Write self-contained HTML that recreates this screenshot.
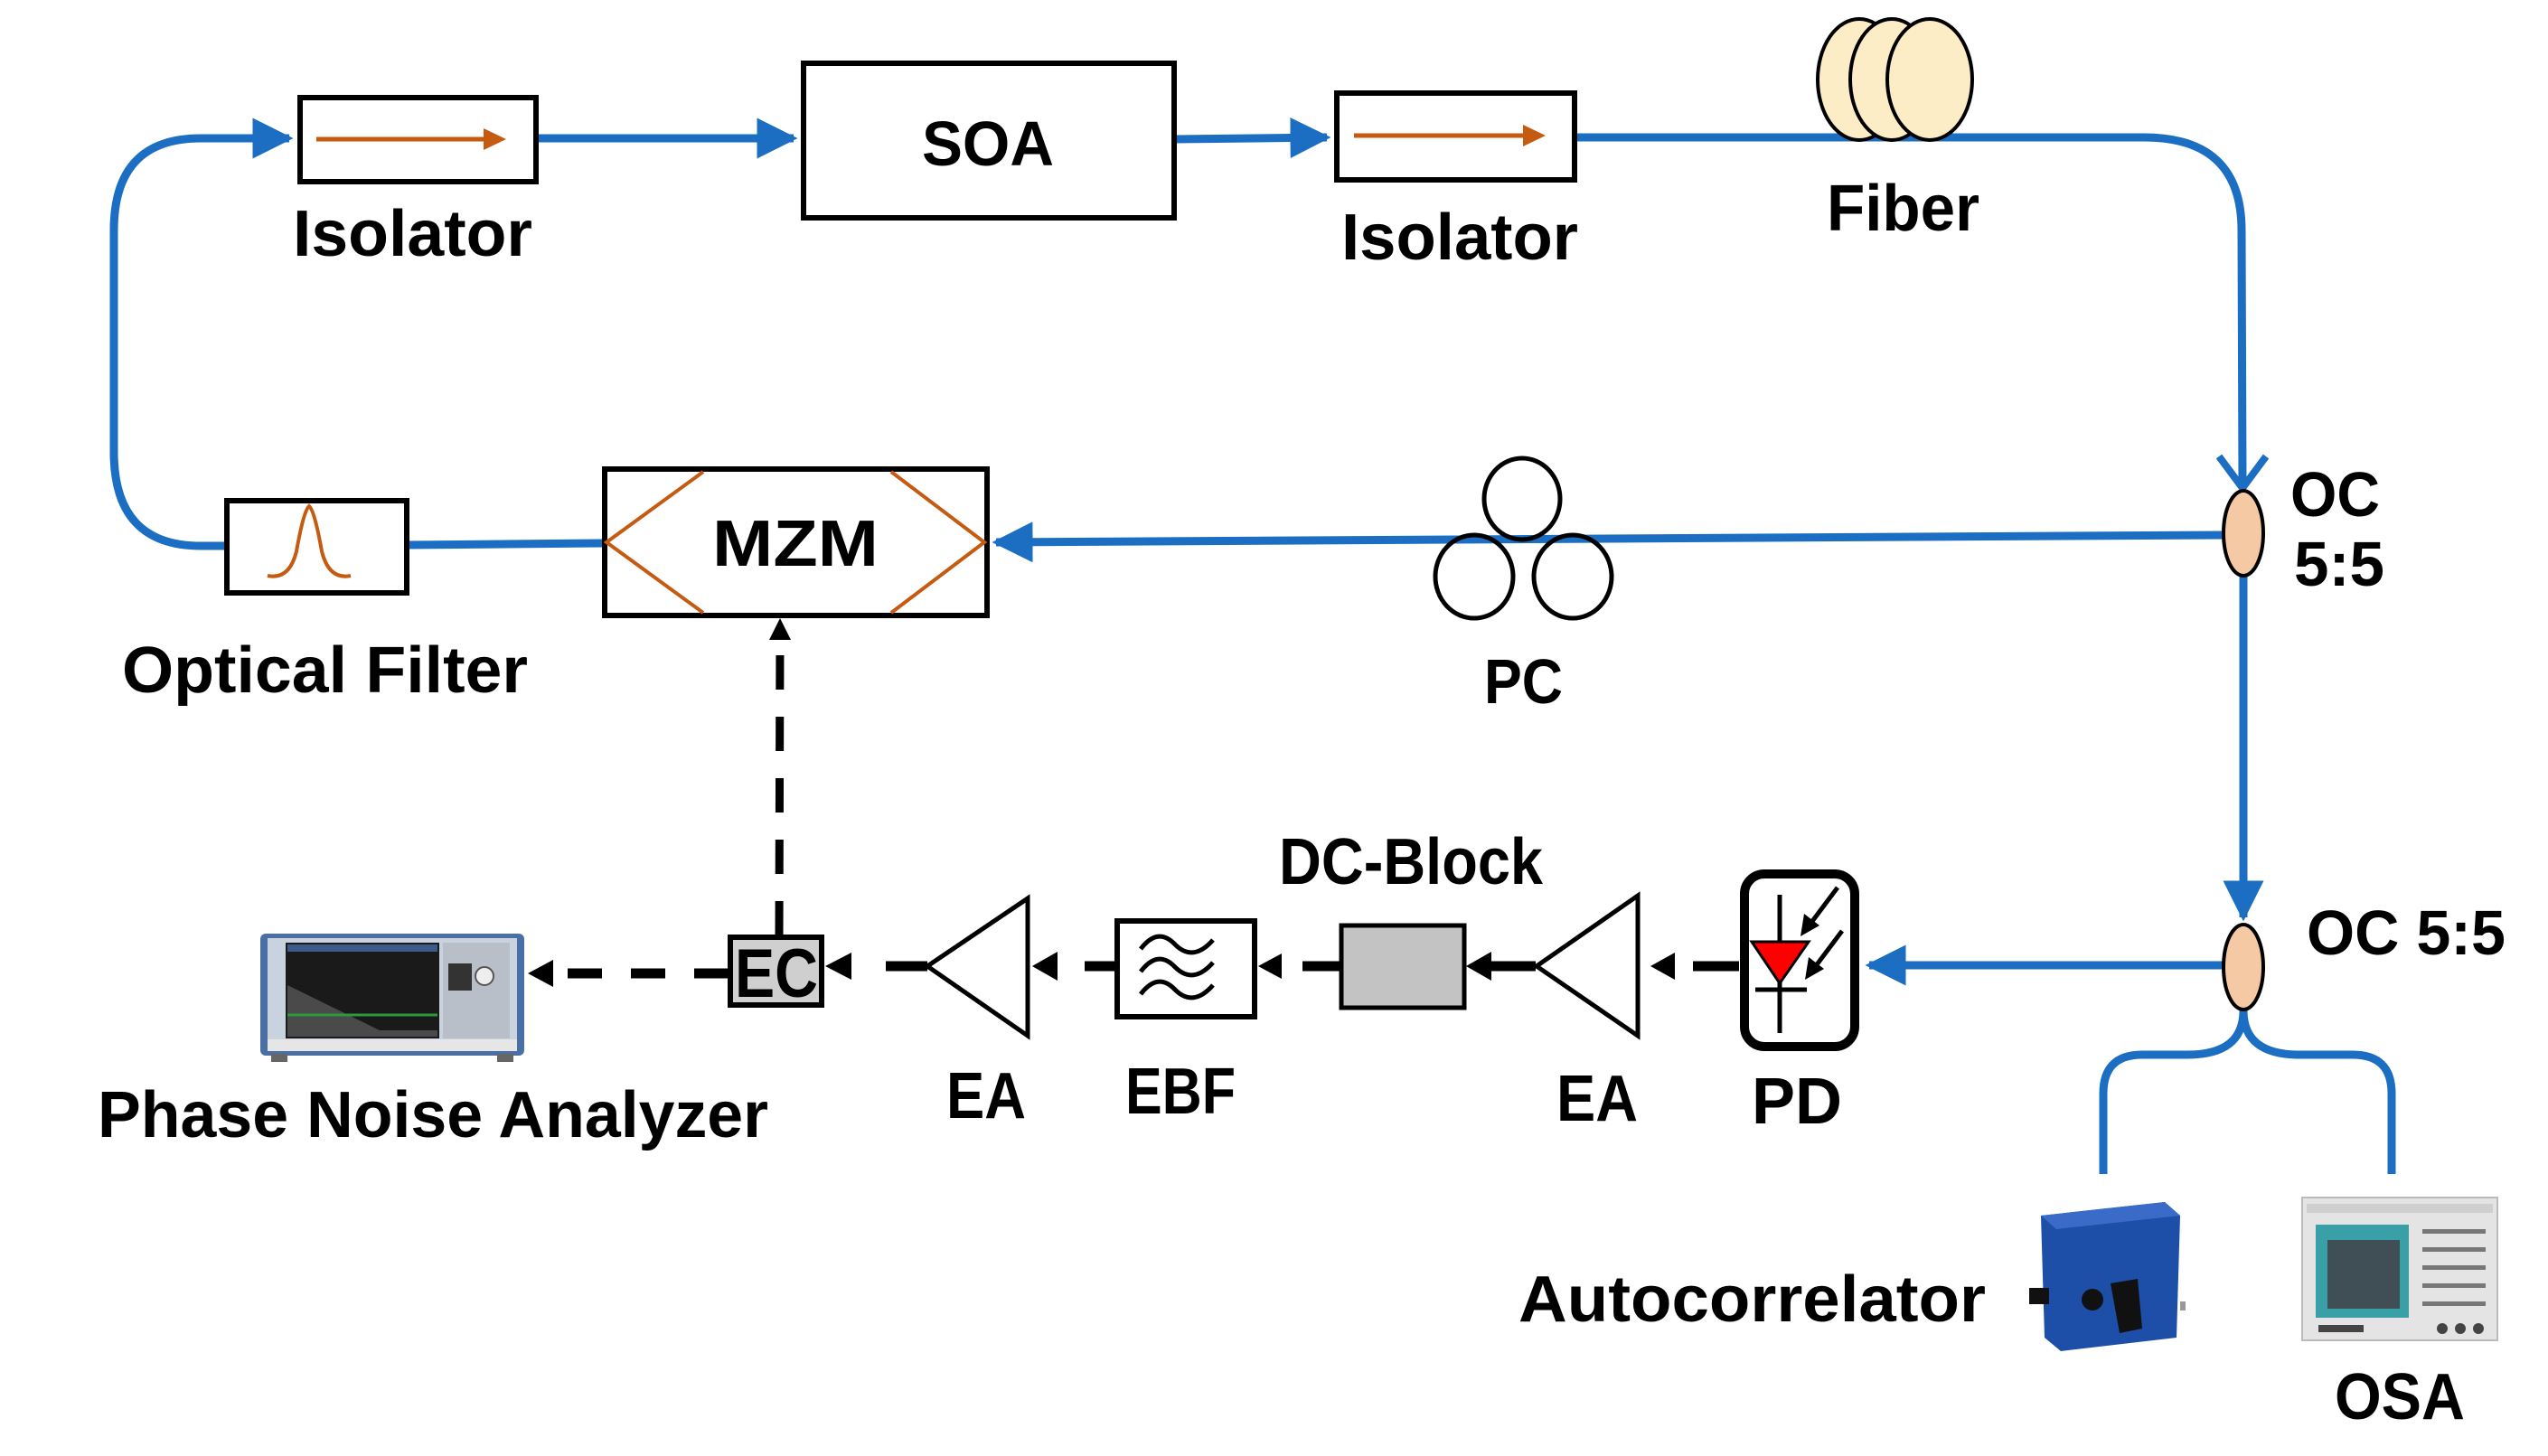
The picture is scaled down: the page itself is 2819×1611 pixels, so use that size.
<!DOCTYPE html>
<html><head><meta charset="utf-8"><style>
html,body{margin:0;padding:0;background:#fff;}
svg{display:block;}
text{font-family:"Liberation Sans",sans-serif;font-weight:bold;fill:#000;}
</style></head><body>
<svg width="2819" height="1611" viewBox="0 0 2819 1611" xmlns="http://www.w3.org/2000/svg">
<defs>
<marker id="ba" markerWidth="5" markerHeight="5" refX="4.5" refY="2.5" orient="auto" markerUnits="strokeWidth"><path d="M0,0 L5,2.5 L0,5 Z" fill="#1b6ec2"/></marker>
<marker id="ka" markerWidth="4" markerHeight="4" refX="3.5" refY="2" orient="auto" markerUnits="strokeWidth"><path d="M0,0 L4,2 L0,4 Z" fill="#000"/></marker>
</defs>

<!-- Blue fiber loop -->
<g fill="none" stroke="#1b6ec2" stroke-width="9">
<path d="M249,604 L222,604 Q126,604 126,500 L126,255 Q126,153 222,153 L320,153" marker-end="url(#ba)"/>
<path d="M593,153 L878,153" marker-end="url(#ba)"/>
<path d="M1299,154 L1468,152" marker-end="url(#ba)"/>
<path d="M1743,152 L2372,152 Q2480,152 2480,255 L2481,537"/>
<path d="M2455,505 L2481,540 L2507,505" stroke-width="8"/>
<path d="M2460,592 L1102,600" marker-end="url(#ba)"/>
<path d="M667,601 L451,603"/>
<path d="M2482,637 L2482,1015" marker-end="url(#ba)"/>
<path d="M2460,1068 L2068,1068" marker-end="url(#ba)"/>
<path d="M2482,1118 Q2482,1167 2420,1167 L2370,1167 Q2327,1167 2327,1210 L2327,1299"/>
<path d="M2482,1118 Q2482,1167 2544,1167 L2603,1167 Q2646,1167 2646,1210 L2646,1299"/>
</g>

<!-- Isolator 1 -->
<rect x="332" y="108" width="261" height="93" fill="#fff" stroke="#000" stroke-width="6"/>
<line x1="350" y1="154" x2="540" y2="154" stroke="#c55a11" stroke-width="5"/>
<path d="M535,142 L560,154 L535,166 Z" fill="#c55a11"/>
<text x="324" y="283" font-size="72" textLength="265" lengthAdjust="spacingAndGlyphs">Isolator</text>

<!-- SOA -->
<rect x="889" y="70" width="410" height="171" fill="#fff" stroke="#000" stroke-width="6"/>
<text x="1093" y="183" font-size="70" text-anchor="middle" textLength="146" lengthAdjust="spacingAndGlyphs">SOA</text>

<!-- Isolator 2 -->
<rect x="1479" y="103" width="263" height="96" fill="#fff" stroke="#000" stroke-width="6"/>
<line x1="1498" y1="150" x2="1690" y2="150" stroke="#c55a11" stroke-width="5"/>
<path d="M1685,138 L1710,150 L1685,162 Z" fill="#c55a11"/>
<text x="1484" y="287" font-size="72" textLength="262" lengthAdjust="spacingAndGlyphs">Isolator</text>

<!-- Fiber -->
<g fill="#fcedc6" stroke="#000" stroke-width="4">
<ellipse cx="2057" cy="88" rx="46" ry="67"/>
<ellipse cx="2093" cy="88" rx="46" ry="67"/>
<ellipse cx="2135" cy="88" rx="47" ry="67"/>
</g>
<text x="2021" y="255" font-size="72" textLength="169" lengthAdjust="spacingAndGlyphs">Fiber</text>

<!-- OC 1 -->
<ellipse cx="2482" cy="590" rx="22" ry="47" fill="#f6c9a5" stroke="#000" stroke-width="4"/>
<text x="2534" y="571" font-size="70" textLength="99" lengthAdjust="spacingAndGlyphs">OC</text>
<text x="2538" y="648" font-size="70" textLength="100" lengthAdjust="spacingAndGlyphs">5:5</text>

<!-- PC -->
<g fill="none" stroke="#000" stroke-width="5">
<ellipse cx="1684" cy="552" rx="42" ry="45"/>
<ellipse cx="1631" cy="638" rx="43" ry="46"/>
<ellipse cx="1740" cy="638" rx="43" ry="46"/>
</g>
<text x="1642" y="778" font-size="70" textLength="87" lengthAdjust="spacingAndGlyphs">PC</text>

<!-- MZM -->
<rect x="669" y="519" width="423" height="162" fill="#fff" stroke="#000" stroke-width="6"/>
<path d="M778,522 L671,600 L778,678" fill="none" stroke="#c55a11" stroke-width="4"/>
<path d="M986,522 L1089,600 L986,678" fill="none" stroke="#c55a11" stroke-width="4"/>
<text x="880" y="626" font-size="72" text-anchor="middle" textLength="184" lengthAdjust="spacingAndGlyphs">MZM</text>

<!-- Optical filter -->
<rect x="251" y="554" width="199" height="102" fill="#fff" stroke="#000" stroke-width="6"/>
<path d="M296,637 Q320,642 328,610 Q336,565 342,560 Q348,565 356,610 Q364,642 388,637" fill="none" stroke="#c55a11" stroke-width="4"/>
<text x="135" y="766" font-size="72" textLength="449" lengthAdjust="spacingAndGlyphs">Optical Filter</text>

<!-- Dashed control to MZM -->
<line x1="862" y1="1035" x2="863" y2="705" stroke="#000" stroke-width="9" stroke-dasharray="38,30"/>
<path d="M851,708 L863,684 L875,708 Z" fill="#000"/>

<!-- EC -->
<rect x="808" y="1037" width="101" height="75" fill="#cfcfcf" stroke="#000" stroke-width="6"/>
<text x="859" y="1103" font-size="76" text-anchor="middle" textLength="92" lengthAdjust="spacingAndGlyphs">EC</text>

<!-- dashed EC -> analyzer -->
<line x1="806" y1="1077" x2="615" y2="1077" stroke="#000" stroke-width="11" stroke-dasharray="38,32"/>
<path d="M612,1062 L584,1077 L612,1092 Z" fill="#000"/>

<!-- EA1 -->
<path d="M1137,994 L1137,1146 L1026,1069 Z" fill="#fff" stroke="#000" stroke-width="5"/>
<line x1="1026" y1="1069" x2="980" y2="1069" stroke="#000" stroke-width="11"/>
<path d="M942,1069 L936,1069" stroke="#000" stroke-width="11"/>
<path d="M942,1054 L913,1069 L942,1084 Z" fill="#000"/>
<text x="1047" y="1237" font-size="72" textLength="88" lengthAdjust="spacingAndGlyphs">EA</text>

<!-- EBF -->
<rect x="1236" y="1019" width="152" height="106" fill="#fff" stroke="#000" stroke-width="6"/>
<g fill="none" stroke="#000" stroke-width="5">
<path d="M1262,1050 Q1281,1025 1300,1045 Q1320,1065 1342,1040"/>
<path d="M1262,1075 Q1281,1050 1300,1070 Q1320,1090 1342,1065"/>
<path d="M1262,1100 Q1281,1075 1300,1095 Q1320,1115 1342,1090"/>
</g>
<line x1="1236" y1="1069" x2="1200" y2="1069" stroke="#000" stroke-width="11"/>
<path d="M1170,1053 L1142,1069 L1170,1085 Z" fill="#000"/>
<text x="1245" y="1232" font-size="72" textLength="122" lengthAdjust="spacingAndGlyphs">EBF</text>

<!-- DC-Block -->
<rect x="1484" y="1024" width="136" height="91" fill="#c3c3c3" stroke="#000" stroke-width="5"/>
<line x1="1484" y1="1069" x2="1441" y2="1069" stroke="#000" stroke-width="11"/>
<path d="M1418,1055 L1392,1069 L1418,1083 Z" fill="#000"/>
<line x1="1699" y1="1069" x2="1645" y2="1069" stroke="#000" stroke-width="11"/>
<path d="M1650,1053 L1622,1069 L1650,1085 Z" fill="#000"/>
<text x="1415" y="978" font-size="72" textLength="292" lengthAdjust="spacingAndGlyphs">DC-Block</text>

<!-- EA2 -->
<path d="M1812,991 L1812,1146 L1700,1069 Z" fill="#fff" stroke="#000" stroke-width="5"/>
<line x1="1924" y1="1069" x2="1873" y2="1069" stroke="#000" stroke-width="11"/>
<path d="M1853,1054 L1826,1069 L1853,1084 Z" fill="#000"/>
<text x="1722" y="1240" font-size="72" textLength="90" lengthAdjust="spacingAndGlyphs">EA</text>

<!-- PD -->
<rect x="1930" y="967" width="122" height="191" rx="22" fill="#fff" stroke="#000" stroke-width="10"/>
<line x1="1969" y1="990" x2="1969" y2="1143" stroke="#000" stroke-width="5"/>
<path d="M1938,1042 L2001,1042 L1969,1088 Z" fill="#ff0000" stroke="#000" stroke-width="3"/>
<line x1="1942" y1="1095" x2="1999" y2="1095" stroke="#000" stroke-width="5"/>
<g stroke="#000" stroke-width="5"><line x1="2033" y1="982" x2="2003" y2="1022"/><line x1="2038" y1="1030" x2="2008" y2="1070"/></g>
<path d="M1992,1036 L1996,1011 L2013,1024 Z" fill="#000"/>
<path d="M1997,1084 L2001,1059 L2018,1072 Z" fill="#000"/>
<text x="1938" y="1243" font-size="72" textLength="100" lengthAdjust="spacingAndGlyphs">PD</text>

<!-- OC 2 -->
<ellipse cx="2482" cy="1070" rx="22" ry="47" fill="#f6c9a5" stroke="#000" stroke-width="4"/>
<text x="2552" y="1056" font-size="70" textLength="220" lengthAdjust="spacingAndGlyphs">OC 5:5</text>

<!-- Phase noise analyzer -->
<rect x="288" y="1033" width="292" height="135" rx="6" fill="#4a6fa5"/>
<rect x="296" y="1038" width="276" height="125" fill="#c9d3e0"/>
<rect x="316" y="1043" width="170" height="106" fill="#1a1a1a"/>
<path d="M318,1090 L420,1140 L484,1140 L484,1147 L318,1147 Z" fill="#4a4a4a"/>
<line x1="318" y1="1123" x2="484" y2="1123" stroke="#2a9a3a" stroke-width="3"/>
<rect x="318" y="1045" width="166" height="8" fill="#3c5a8a"/>
<rect x="490" y="1043" width="74" height="106" fill="#b8bfc8"/>
<circle cx="536" cy="1080" r="10" fill="#eee" stroke="#555" stroke-width="2"/>
<rect x="496" y="1066" width="26" height="30" fill="#333"/>
<rect x="296" y="1150" width="276" height="13" fill="#e6e6e6"/>
<rect x="300" y="1166" width="18" height="9" fill="#666"/><rect x="550" y="1166" width="18" height="9" fill="#666"/>
<text x="108" y="1258" font-size="72" textLength="742" lengthAdjust="spacingAndGlyphs">Phase Noise Analyzer</text>

<!-- Autocorrelator -->
<path d="M2258,1345 L2395,1330 L2412,1345 L2408,1480 L2280,1495 L2262,1480 Z" fill="#1d4fa8"/>
<path d="M2258,1345 L2395,1330 L2412,1345 L2275,1360 Z" fill="#3a6bc8"/>
<circle cx="2315" cy="1438" r="12" fill="#111"/>
<rect x="2245" y="1425" width="22" height="18" fill="#111"/>
<path d="M2335,1420 L2365,1415 L2370,1470 L2345,1475 Z" fill="#111"/>
<rect x="2412" y="1440" width="6" height="10" fill="#999"/>
<text x="1680" y="1462" font-size="72" textLength="517" lengthAdjust="spacingAndGlyphs">Autocorrelator</text>

<!-- OSA -->
<rect x="2547" y="1325" width="216" height="158" fill="#e4e4e4" stroke="#bbb" stroke-width="2"/>
<rect x="2552" y="1332" width="206" height="10" fill="#cfcfcf"/>
<rect x="2562" y="1355" width="103" height="103" fill="#3aa0a8"/>
<rect x="2575" y="1372" width="80" height="76" fill="#404f55"/>
<g fill="#777"><rect x="2680" y="1360" width="70" height="5"/><rect x="2680" y="1380" width="70" height="5"/><rect x="2680" y="1400" width="70" height="5"/><rect x="2680" y="1420" width="70" height="5"/><rect x="2680" y="1440" width="70" height="5"/></g>
<g fill="#444"><circle cx="2702" cy="1470" r="6"/><circle cx="2722" cy="1470" r="6"/><circle cx="2742" cy="1470" r="6"/><rect x="2565" y="1466" width="50" height="8"/></g>
<text x="2583" y="1570" font-size="72" textLength="144" lengthAdjust="spacingAndGlyphs">OSA</text>
</svg>
</body></html>
